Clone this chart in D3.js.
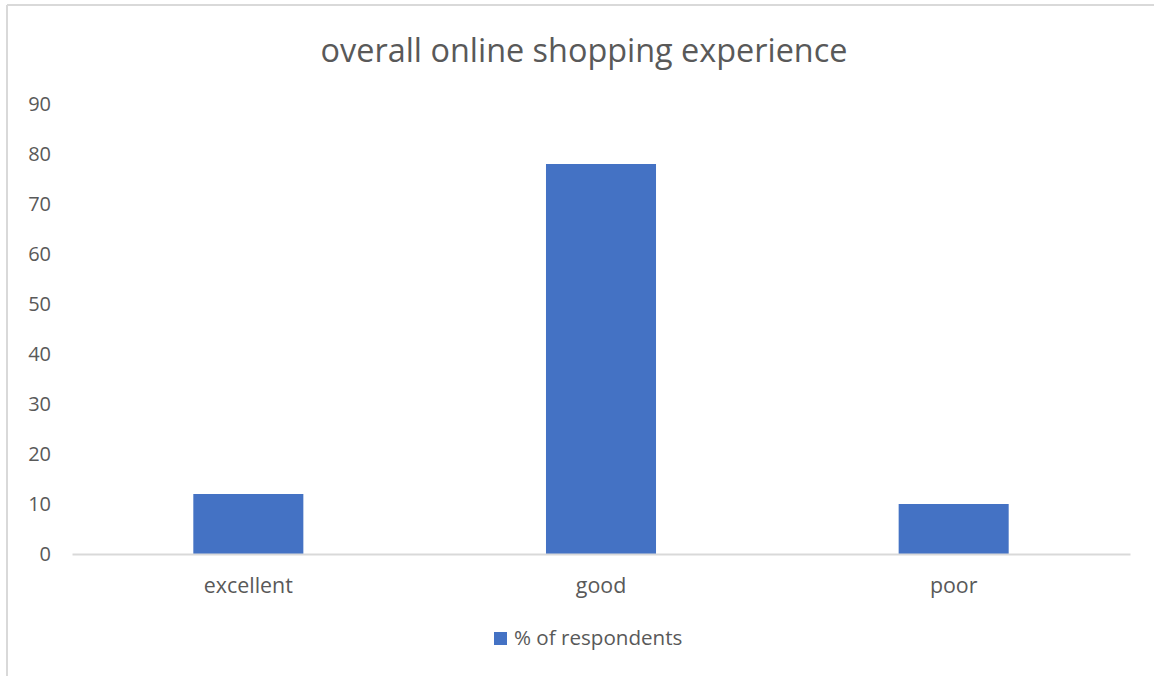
<!DOCTYPE html>
<html>
<head>
<meta charset="utf-8">
<script src="https://cdn.jsdelivr.net/npm/d3@7"></script>
<style>
  html, body { margin: 0; padding: 0; background: #fff; }
  svg { display: block; font-family: "Open Sans", "Noto Sans", sans-serif; }
</style>
</head>
<body>
<svg id="chart" width="1154" height="676"></svg>
<script>
const categories = ["excellent", "good", "poor"];
const respondents = [12, 78, 10];
const yTicks = [0, 10, 20, 30, 40, 50, 60, 70, 80, 90];
const chartTitle = "overall online shopping experience";
const seriesName = "% of respondents";

const W = 1154, H = 676;
const plot = { left: 72, right: 1130, top: 104, bottom: 554 };
const textColor = "#595959";
const barColor = "#4472C4";
const lineColor = "#D9D9D9";

const svg = d3.select("#chart");

// chart area frame (top and left edges visible)
svg.append("line").attr("x1", 7).attr("x2", W).attr("y1", 5).attr("y2", 5)
  .attr("stroke", lineColor).attr("stroke-width", 2);
svg.append("line").attr("x1", 7).attr("x2", 7).attr("y1", 5).attr("y2", H)
  .attr("stroke", lineColor).attr("stroke-width", 2);

const x = d3.scaleBand()
  .domain(categories)
  .range([plot.left, plot.right])
  .paddingInner(0.688)
  .paddingOuter(0.344);

const y = d3.scaleLinear()
  .domain([0, 90])
  .range([plot.bottom, plot.top]);

// title
svg.append("text")
  .attr("x", 584).attr("y", 62)
  .attr("text-anchor", "middle")
  .attr("fill", textColor)
  .style("font-size", "32.4px")
  .text(chartTitle);

// y axis labels (no line, no ticks)
const yAxis = d3.axisLeft(y).tickValues(yTicks).tickSize(0).tickPadding(0);
const gy = svg.append("g").attr("transform", "translate(51,0)").call(yAxis);
gy.select(".domain").remove();
gy.selectAll("text")
  .attr("fill", textColor)
  .style("font-size", "20px")
  .style("font-family", "'Open Sans', 'Noto Sans', sans-serif");

// bars
svg.append("g").selectAll("rect")
  .data(categories.map((c, i) => ({ c, v: respondents[i] })))
  .join("rect")
  .attr("x", d => x(d.c))
  .attr("width", x.bandwidth())
  .attr("y", d => y(d.v))
  .attr("height", d => y(0) - y(d.v))
  .attr("fill", barColor);

// x axis baseline and category labels
const xAxis = d3.axisBottom(x).tickSize(0).tickPadding(0);
const gx = svg.append("g").attr("transform", `translate(0,${plot.bottom})`).call(xAxis);
gx.select(".domain")
  .attr("stroke", lineColor).attr("stroke-width", 2);
gx.selectAll("text")
  .attr("dy", null)
  .attr("y", 39)
  .attr("fill", textColor)
  .style("font-size", "21.4px")
  .style("font-family", "'Open Sans', 'Noto Sans', sans-serif");

// legend
const lg = svg.append("g").attr("transform", "translate(494,632)");
lg.append("rect").attr("width", 13).attr("height", 13).attr("fill", barColor);
lg.append("text")
  .attr("x", 20).attr("y", 13)
  .attr("fill", textColor)
  .style("font-size", "20.6px")
  .text(seriesName);
</script>
</body>
</html>
